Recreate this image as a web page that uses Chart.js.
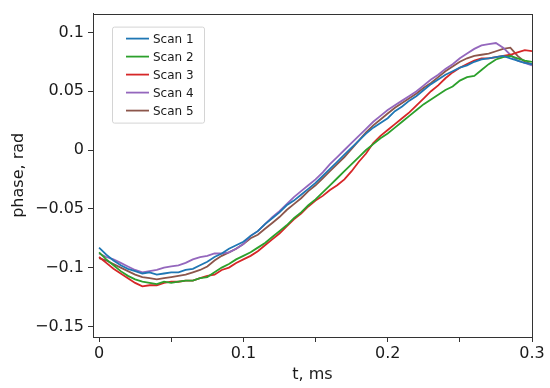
<!DOCTYPE html>
<html>
<head>
<meta charset="utf-8">
<script src="https://cdn.jsdelivr.net/npm/chart.js@4/dist/chart.umd.min.js"></script>
<style>
  html, body { margin: 0; padding: 0; background: #fff; }
  #wrap { width: 550px; height: 388px; }
</style>
</head>
<body>
<div id="wrap"><canvas id="myChart" width="550" height="388"></canvas></div>
<script>
// time axis, ms
const tVals = [
  0.000, 0.005, 0.010, 0.015, 0.020, 0.025, 0.030, 0.035, 0.040, 0.045,
  0.050, 0.055, 0.060, 0.065, 0.070, 0.075, 0.080, 0.085, 0.090, 0.095,
  0.100, 0.105, 0.110, 0.115, 0.120, 0.125, 0.130, 0.135, 0.140, 0.145,
  0.150, 0.155, 0.160, 0.165, 0.170, 0.175, 0.180, 0.185, 0.190, 0.195,
  0.200, 0.205, 0.210, 0.215, 0.220, 0.225, 0.230, 0.235, 0.240, 0.245,
  0.250, 0.255, 0.260, 0.265, 0.270, 0.275, 0.280, 0.285, 0.290, 0.295,
  0.300
];

// phase, rad
const scan1 = [
  -0.083, -0.089, -0.094, -0.098, -0.101, -0.103, -0.105, -0.104, -0.106, -0.105,
  -0.104, -0.104, -0.102, -0.101, -0.098, -0.095, -0.091, -0.088, -0.084, -0.081,
  -0.078, -0.073, -0.069, -0.063, -0.058, -0.053, -0.047, -0.043, -0.038, -0.033,
  -0.028, -0.022, -0.016, -0.010, -0.004, 0.002, 0.008, 0.014, 0.019, 0.023,
  0.027, 0.033, 0.037, 0.042, 0.046, 0.051, 0.056, 0.060, 0.064, 0.067,
  0.070, 0.072, 0.075, 0.077, 0.078, 0.079, 0.080, 0.078, 0.076, 0.074,
  0.073
];
const scan2 = [
  -0.087, -0.093, -0.098, -0.103, -0.107, -0.110, -0.112, -0.113, -0.114, -0.112,
  -0.113, -0.112, -0.111, -0.111, -0.109, -0.108, -0.104, -0.100, -0.097, -0.093,
  -0.090, -0.087, -0.083, -0.079, -0.074, -0.069, -0.064, -0.058, -0.053, -0.047,
  -0.042, -0.036, -0.030, -0.024, -0.018, -0.012, -0.006, 0.000, 0.005, 0.010,
  0.014, 0.019, 0.024, 0.029, 0.034, 0.039, 0.043, 0.047, 0.051, 0.054,
  0.059, 0.062, 0.063, 0.068, 0.073, 0.077, 0.079, 0.080, 0.078, 0.076,
  0.075
];
const scan3 = [
  -0.091, -0.096, -0.101, -0.105, -0.109, -0.113, -0.116, -0.115, -0.115, -0.113,
  -0.112, -0.112, -0.111, -0.111, -0.109, -0.107, -0.106, -0.102, -0.100, -0.096,
  -0.093, -0.090, -0.086, -0.081, -0.076, -0.071, -0.065, -0.059, -0.054, -0.048,
  -0.043, -0.039, -0.034, -0.030, -0.025, -0.018, -0.010, -0.003, 0.006, 0.012,
  0.017, 0.022, 0.027, 0.032, 0.038, 0.044, 0.050, 0.055, 0.061, 0.066,
  0.070, 0.073, 0.076, 0.078, 0.078, 0.079, 0.080, 0.081, 0.083, 0.085,
  0.084
];
const scan4 = [
  -0.088, -0.091, -0.093, -0.096, -0.099, -0.102, -0.104, -0.103, -0.102, -0.100,
  -0.099, -0.098, -0.096, -0.093, -0.091, -0.090, -0.088, -0.088, -0.087, -0.084,
  -0.080, -0.073, -0.069, -0.063, -0.057, -0.052, -0.046, -0.040, -0.035, -0.030,
  -0.025, -0.019, -0.012, -0.006, 0.000, 0.006, 0.012, 0.018, 0.024, 0.029,
  0.034, 0.038, 0.042, 0.046, 0.050, 0.055, 0.060, 0.064, 0.069, 0.073,
  0.078, 0.082, 0.086, 0.089, 0.090, 0.091, 0.087, 0.081, 0.076, 0.074,
  0.072
];
const scan5 = [
  -0.092, -0.094, -0.097, -0.100, -0.103, -0.106, -0.108, -0.109, -0.110, -0.109,
  -0.108, -0.107, -0.106, -0.104, -0.102, -0.099, -0.094, -0.090, -0.087, -0.084,
  -0.080, -0.075, -0.072, -0.067, -0.062, -0.057, -0.051, -0.046, -0.041, -0.035,
  -0.030, -0.024, -0.018, -0.012, -0.006, 0.001, 0.008, 0.015, 0.021, 0.026,
  0.031, 0.036, 0.040, 0.044, 0.048, 0.053, 0.057, 0.062, 0.067, 0.071,
  0.075, 0.078, 0.080, 0.081, 0.082, 0.084, 0.086, 0.087, 0.080, 0.075,
  0.073
];

const scanNames = ['Scan 1', 'Scan 2', 'Scan 3', 'Scan 4', 'Scan 5'];
const scanColors = ['#1f77b4', '#2ca02c', '#d62728', '#9467bd', '#8c564b'];

const xTicks = [0, 0.05, 0.1, 0.15, 0.2, 0.25, 0.3];
const xLabelled = [0, 0.1, 0.2, 0.3];
const yTicks = [-0.15, -0.1, -0.05, 0, 0.05, 0.1];

const FONT = "'DejaVu Sans', Verdana, sans-serif";
const INK = '#1a1a1a';
const AXIS = '#333333';

let allScans = [scan1, scan2, scan3, scan4, scan5];

const data = {
  datasets: allScans.map(function (s, i) {
    return {
      label: scanNames[i],
      data: s.map((v, k) => ({ x: tVals[k], y: v })),
      borderColor: scanColors[i],
      backgroundColor: scanColors[i],
      borderWidth: 1.8,
      pointRadius: 0,
      tension: 0
    };
  })
};

// box round the plot area
const frame = {
  id: 'frame',
  afterDraw(chart) {
    const a = chart.chartArea, ctx = chart.ctx;
    ctx.save();
    ctx.strokeStyle = AXIS;
    ctx.lineWidth = 1;
    ctx.strokeRect(Math.round(a.left) + 0.5, Math.round(a.top) + 0.5,
      Math.round(a.right - a.left), Math.round(a.bottom - a.top));
    ctx.restore();
  }
};

// legend box in the upper left of the plot
const boxLegend = {
  id: 'boxLegend',
  afterDraw(chart) {
    const ctx = chart.ctx;
    const a = chart.chartArea;
    const x0 = a.left + 19, y0 = a.top + 13, w = 92, h = 96;
    ctx.save();
    ctx.fillStyle = 'rgba(255,255,255,0.9)';
    ctx.strokeStyle = '#d4d4d4';
    ctx.lineWidth = 1;
    ctx.beginPath();
    ctx.roundRect(x0 + 0.5, y0 + 0.5, w, h, 2);
    ctx.fill();
    ctx.stroke();
    ctx.font = '12px ' + FONT;
    ctx.textBaseline = 'middle';
    chart.data.datasets.forEach(function (ds, i) {
      const cy = y0 + 12 + i * 18;
      ctx.strokeStyle = ds.borderColor;
      ctx.lineWidth = 1.8;
      ctx.beginPath();
      ctx.moveTo(x0 + 14, cy);
      ctx.lineTo(x0 + 37, cy);
      ctx.stroke();
      ctx.fillStyle = INK;
      ctx.fillText(ds.label, x0 + 41, cy + 1);
    });
    ctx.restore();
  }
};

const config = {
  type: 'line',
  data: data,
  plugins: [frame, boxLegend],
  options: {
    responsive: false,
    animation: false,
    layout: { padding: { left: 0, top: 10, right: 18, bottom: 0 } },
    plugins: {
      legend: { display: false },
      tooltip: { enabled: false }
    },
    scales: {
      x: {
        type: 'linear',
        min: -0.0042,
        max: 0.3,
        afterBuildTicks: function (scale) {
          scale.ticks = xTicks.map(v => ({ value: v }));
        },
        afterFit: function (scale) { scale.height = 51; },
        grid: { display: true, drawOnChartArea: false, drawTicks: true, tickLength: 5, color: AXIS },
        border: { display: true, color: AXIS, width: 1 },
        ticks: {
          autoSkip: false,
          maxRotation: 0,
          padding: 2,
          color: INK,
          font: { family: FONT, size: 16 },
          callback: function (v) {
            const hit = xLabelled.find(t => Math.abs(t - v) < 1e-9);
            return hit === undefined ? '' : String(hit);
          }
        },
        title: {
          display: true,
          text: 't, ms',
          color: INK,
          font: { family: FONT, size: 16 },
          padding: { top: 0, bottom: 4 }
        }
      },
      y: {
        type: 'linear',
        min: -0.159,
        max: 0.116,
        afterBuildTicks: function (scale) {
          scale.ticks = yTicks.map(v => ({ value: v }));
        },
        afterFit: function (scale) { scale.width = 93; },
        grid: { display: true, drawOnChartArea: false, drawTicks: true, tickLength: 5, color: AXIS },
        border: { display: true, color: AXIS, width: 1 },
        ticks: {
          autoSkip: false,
          padding: 4,
          color: INK,
          font: { family: FONT, size: 16 },
          callback: function (v) {
            const r = Math.round(v * 1000) / 1000;
            if (r === 0) return '0';
            return r < 0 ? '\u2212' + String(-r) : String(r);
          }
        },
        title: {
          display: true,
          text: 'phase, rad',
          color: INK,
          font: { family: FONT, size: 16 },
          padding: { top: 9, bottom: 4 }
        }
      }
    }
  }
};

const myChart = new Chart(document.getElementById('myChart'), config);
</script>
</body>
</html>
